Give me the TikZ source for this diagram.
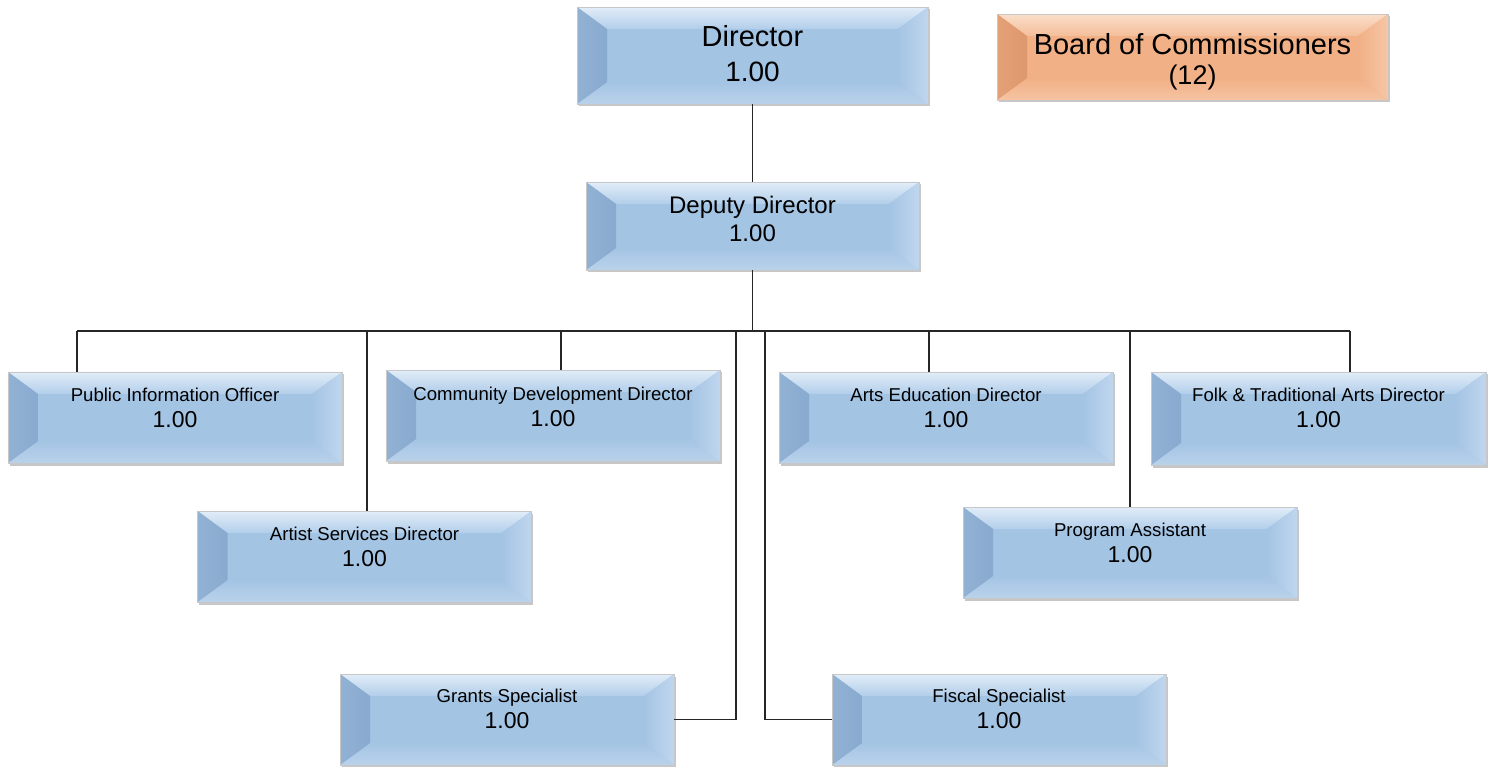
\documentclass[tikz,border=0pt]{standalone}
\usepackage{fontspec}
\setmainfont{Liberation Sans}
\usetikzlibrary{calc,shadows}
\definecolor{bBase}{RGB}{164,196,228}
\definecolor{bDark}{RGB}{146,178,212}
\definecolor{bDarkIn}{RGB}{136,170,207}
\definecolor{bTop}{RGB}{226,237,248}
\definecolor{bTopIn}{RGB}{178,206,234}
\definecolor{bRight}{RGB}{192,214,238}
\definecolor{bBot}{RGB}{186,210,235}
\definecolor{oBase}{RGB}{241,176,133}
\definecolor{oDark}{RGB}{228,160,118}
\definecolor{oDarkIn}{RGB}{222,152,110}
\definecolor{oTop}{RGB}{250,222,200}
\definecolor{oTopIn}{RGB}{244,190,155}
\definecolor{oRight}{RGB}{246,198,166}
\definecolor{oBot}{RGB}{245,196,162}
\newcommand\bevelfill[7]{%
  \path (path picture bounding box.north west) coordinate (pNW)
        (path picture bounding box.north east) coordinate (pNE)
        (path picture bounding box.south west) coordinate (pSW)
        (path picture bounding box.south east) coordinate (pSE);
  \fill[#1] (pSW) rectangle (pNE);
  \shade[top color=#3, bottom color=#4] (pNW) -- (pNE) -- ($(pNE)+(-30,-22)$) -- ($(pNW)+(30,-22)$) -- cycle;
  \shade[top color=#1, bottom color=#6] (pSW) -- (pSE) -- ($(pSE)+(-30,22)$) -- ($(pSW)+(30,22)$) -- cycle;
  \shade[left color=#2, right color=#7] (pNW) -- ($(pNW)+(30,-22)$) -- ($(pSW)+(30,22)$) -- (pSW) -- cycle;
  \shade[left color=#1, right color=#5] (pNE) -- ($(pNE)+(-30,-22)$) -- ($(pSE)+(-30,22)$) -- (pSE) -- cycle;
}
\tikzset{
  boxbase/.style={rectangle, inner sep=0pt, outer sep=0pt, draw=black!22, line width=0.8pt,
    drop shadow={shadow xshift=1.5pt, shadow yshift=-2.5pt, fill=black!40, opacity=0.55}},
  bluebox/.style={boxbase, path picture={\bevelfill{bBase}{bDark}{bTop}{bTopIn}{bRight}{bBot}{bDarkIn}}},
  orangebox/.style={boxbase, path picture={\bevelfill{oBase}{oDark}{oTop}{oTopIn}{oRight}{oBot}{oDarkIn}}},
  smallbox/.style={bluebox, minimum width=334pt, minimum height=91pt},
  ttl/.style={anchor=base, font=\fontsize{18.6}{22}\selectfont, inner sep=0pt},
  num/.style={anchor=base, font=\fontsize{23}{27}\selectfont, inner sep=0pt},
  conn/.style={draw=black!85, line width=1.2pt}
}
\begin{document}
\begin{tikzpicture}[x=1pt,y=1pt]
\useasboundingbox (0,0) rectangle (1492,-767);
% top boxes
\node[bluebox, minimum width=351pt, minimum height=97pt] (dir) at (752.5,-55.5) {};
\node[anchor=base, font=\fontsize{29}{33}\selectfont, inner sep=0pt] (dir-t) at ([yshift=-40pt]dir.north) {Director};
\node[anchor=base, font=\fontsize{28}{32}\selectfont, inner sep=0pt] (dir-n) at ([yshift=-75pt]dir.north) {1.00};

\node[orangebox, minimum width=391pt, minimum height=86pt] (board) at (1192.5,-57) {};
\node[anchor=base, font=\fontsize{29}{33}\selectfont, inner sep=0pt] (board-t) at ([yshift=-40.5pt]board.north) {Board of Commissioners};
\node[anchor=base, font=\fontsize{27}{31}\selectfont, inner sep=0pt] (board-n) at ([yshift=-71pt]board.north) {(12)};

\node[bluebox, minimum width=333pt, minimum height=88pt] (dep) at (752.5,-226) {};
\node[anchor=base, font=\fontsize{24}{28}\selectfont, inner sep=0pt] (dep-t) at ([yshift=-32pt]dep.north) {Deputy Director};
\node[anchor=base, font=\fontsize{24}{28}\selectfont, inner sep=0pt] (dep-n) at ([yshift=-60pt]dep.north) {1.00};

% staff boxes
\node[smallbox] (pio) at (175,-417.5) {};
\node[ttl] (pio-t) at ([yshift=-29pt]pio.north) {Public Information Officer};
\node[num] (pio-n) at ([yshift=-56pt]pio.north) {1.00};

\node[smallbox] (cdd) at (553,-415.5) {};
\node[ttl] (cdd-t) at ([yshift=-30pt]cdd.north) {Community Development Director};
\node[num] (cdd-n) at ([yshift=-56pt]cdd.north) {1.00};

\node[smallbox] (aed) at (946,-417.5) {};
\node[ttl] (aed-t) at ([yshift=-30pt]aed.north) {Arts Education Director};
\node[num] (aed-n) at ([yshift=-56pt]aed.north) {1.00};

\node[smallbox, minimum width=335pt, minimum height=93pt] (folk) at (1318.5,-418.5) {};
\node[ttl] (folk-t) at ([yshift=-30pt]folk.north) {Folk \& Traditional Arts Director};
\node[num] (folk-n) at ([yshift=-56pt]folk.north) {1.00};

\node[smallbox] (asd) at (364.5,-556.5) {};
\node[ttl] (asd-t) at ([yshift=-29pt]asd.north) {Artist Services Director};
\node[num] (asd-n) at ([yshift=-55pt]asd.north) {1.00};

\node[smallbox] (pa) at (1130,-552.5) {};
\node[ttl] (pa-t) at ([yshift=-29pt]pa.north) {Program Assistant};
\node[num] (pa-n) at ([yshift=-55pt]pa.north) {1.00};

\node[smallbox] (gs) at (507,-719.5) {};
\node[ttl] (gs-t) at ([yshift=-28pt]gs.north) {Grants Specialist};
\node[num] (gs-n) at ([yshift=-54pt]gs.north) {1.00};

\node[smallbox] (fs) at (999,-719.5) {};
\node[ttl] (fs-t) at ([yshift=-28pt]fs.north) {Fiscal Specialist};
\node[num] (fs-n) at ([yshift=-54pt]fs.north) {1.00};

% bus coordinates
\coordinate (bus) at (752.5,-331);
\coordinate (b1) at (77,-331);
\coordinate (b2) at (367,-331);
\coordinate (b3) at (561,-331);
\coordinate (b4) at (736,-331);
\coordinate (b5) at (765,-331);
\coordinate (b6) at (929,-331);
\coordinate (b7) at (1130,-331);
\coordinate (b8) at (1350,-331);

% connectors
\draw[conn] (dir.south) -- (dep.north);
\draw[conn] (dep.south) -- (bus);
\draw[conn] (b1) -- (b8);
\draw[conn] (b1) -- (b1 |- pio.north);
\draw[conn] (b2) -- (b2 |- asd.north);
\draw[conn] (b3) -- (b3 |- cdd.north);
\draw[conn] (b4) |- (gs.east);
\draw[conn] (b5) |- (fs.west);
\draw[conn] (b6) -- (b6 |- aed.north);
\draw[conn] (b7) -- (b7 |- pa.north);
\draw[conn] (b8) -- (b8 |- folk.north);
\end{tikzpicture}
\end{document}
